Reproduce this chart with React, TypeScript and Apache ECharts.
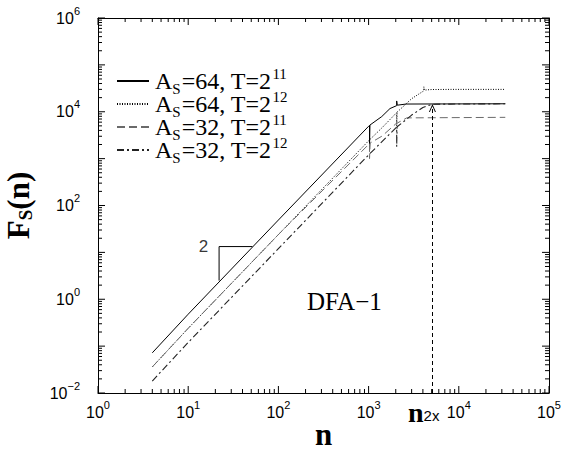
import React, { useEffect, useRef } from 'react';
import * as echarts from 'echarts';

// ---- data ----
const seriesNames = ['s64_11', 's64_12', 's32_11', 's32_12'];
const seriesAmp = ['64', '64', '32', '32'];
const seriesPow = ['11', '12', '11', '12'];

// A_S=64, T=2^11 (solid)
const solidN = [4, 10, 100, 1000, 1024, 1024, 1035, 1400, 1726, 2048, 2048, 2080, 2600, 32768];
const solidF = [0.072, 0.48, 49, 4900, 5100, 1800, 5200, 7900, 11700, 13500, 17000, 13800, 14600, 14800];

// A_S=64, T=2^12 (dotted)
const dottedN = [4, 10, 100, 1000, 1400, 2048, 2048, 2070, 3000, 4096, 4096, 4150, 5000, 8192, 32768];
const dottedF = [0.036, 0.24, 24, 2400, 4500, 9600, 5000, 9800, 19000, 28000, 34000, 29000, 29800, 30000, 30000];

// A_S=32, T=2^11 (dashed)
const dashedN = [4, 10, 100, 1000, 1024, 1024, 1040, 1400, 2000, 2650, 32768];
const dashedF = [0.036, 0.24, 24, 2000, 2100, 1000, 2150, 3000, 5500, 7400, 7600];

// A_S=32, T=2^12 (dash-dot)
const dashDotN = [4, 10, 100, 1000, 2048, 2048, 2070, 2300, 3000, 4000, 5100, 32768];
const dashDotF = [0.018, 0.12, 12, 1200, 4700, 1800, 4800, 5600, 8500, 12300, 14500, 14800];

// slope triangle
const triN = [51.5, 22, 22];
const triF = [13.3, 13.3, 2.5];
const slopeLabelPoint = [14.8, 13.3];

// crossover marker n_2x
const n2x = 5100;
const n2xArrowTop = 12000;

// axes
const xMin = 1;
const xMax = 100000;
const yMin = 0.01;
const yMax = 1000000;
const xDecades = [0, 1, 2, 3, 4, 5];
const yDecades = [-2, -1, 0, 1, 2, 3, 4, 5, 6];

const zip = (a: number[], b: number[]) => a.map((v, i) => [v, b[i]]);

const xTickData: number[][] = [];
xDecades.forEach((e) => {
  xTickData.push([Math.pow(10, e), 1, 1]);
  if (e < 5) for (let m = 2; m <= 9; m++) xTickData.push([m * Math.pow(10, e), 1, 0]);
});
const yTickData: number[][] = [];
yDecades.forEach((e) => {
  yTickData.push([10, Math.pow(10, e), 1]);
  if (e < 6) for (let m = 2; m <= 9; m++) yTickData.push([10, m * Math.pow(10, e), 0]);
});

const SANS = 'Liberation Sans';
const SERIF = 'Liberation Serif';

const supLabel = (v: number) => {
  const e = Math.round(Math.log10(v));
  return `{b|10}{s|${e < 0 ? '−' + -e : e}}`;
};

const labelRich = {
  b: { fontFamily: SANS, fontSize: 16, color: '#000', lineHeight: 26 },
  s: { fontFamily: SANS, fontSize: 11, color: '#000', lineHeight: 9, verticalAlign: 'top' },
};

export default function App() {
  const ref = useRef<HTMLDivElement>(null);
  useEffect(() => {
    if (!ref.current) return;
    document.body.style.margin = '0';
    document.body.style.overflow = 'hidden';
    document.documentElement.style.overflow = 'hidden';
    const chart = echarts.init(ref.current, null, { renderer: 'svg', width: 561, height: 451 });

    const lineSeries = (name: string, data: number[][], color: string, type: any, width: number, extra: any = {}) => ({
      name,
      type: 'line',
      data,
      symbol: 'none',
      showSymbol: false,
      smooth: false,
      clip: true,
      xAxisIndex: 0,
      yAxisIndex: 0,
      lineStyle: { color, type, width },
      itemStyle: { color },
      ...extra,
    });

    const option: any = {
      animation: false,
      backgroundColor: '#fff',
      textStyle: { fontFamily: SANS },
      grid: { left: 98, right: 12, top: 18, bottom: 58, containLabel: false, outerBoundsMode: 'none' },
      legend: {
        show: true,
        orient: 'vertical',
        left: 111,
        top: 61,
        itemWidth: 32,
        itemHeight: 14,
        itemGap: -7,
        selectedMode: false,
        data: seriesNames,
        itemStyle: { opacity: 0 },
        formatter: (name: string) => {
          const i = seriesNames.indexOf(name);
          return `{a|A}{sub|S}{a|=${seriesAmp[i]}, T=2}{sup|${seriesPow[i]}}`;
        },
        textStyle: {
          color: '#000',
          fontFamily: SERIF,
          fontSize: 24,
          padding: [0, 0, 0, 1],
          rich: {
            a: { fontFamily: SERIF, fontSize: 24, color: '#000', lineHeight: 30 },
            sub: { fontFamily: SERIF, fontSize: 15, color: '#000', lineHeight: 21, verticalAlign: 'bottom', padding: [0, 1, 0, 0] },
            sup: { fontFamily: SERIF, fontSize: 15, color: '#000', lineHeight: 4, verticalAlign: 'top', padding: [0, 0, 0, 1] },
          },
        },
      },
      xAxis: [
        {
          type: 'log',
          logBase: 10,
          min: xMin,
          max: xMax,
          position: 'bottom',
          axisLine: { show: true, lineStyle: { color: '#000', width: 1 } },
          axisTick: { show: false },
          splitLine: { show: false },
          axisLabel: { formatter: supLabel, margin: 6, rich: labelRich },
          name: 'n',
          nameLocation: 'middle',
          nameGap: 26,
          nameMoveOverlap: false,
          nameTextStyle: { fontFamily: SERIF, fontWeight: 'bold', fontSize: 31, color: '#000' },
        },
        {
          type: 'log',
          logBase: 10,
          min: xMin,
          max: xMax,
          position: 'top',
          axisLine: { show: true, lineStyle: { color: '#000', width: 1 } },
          axisTick: { show: false },
          splitLine: { show: false },
          axisLabel: { show: false },
        },
      ],
      yAxis: [
        {
          type: 'log',
          logBase: 10,
          min: yMin,
          max: yMax,
          position: 'left',
          axisLine: { show: true, lineStyle: { color: '#000', width: 1 } },
          axisTick: { show: false },
          splitLine: { show: false },
          axisLabel: {
            margin: 18,
            rich: labelRich,
            formatter: (v: number) => {
              const e = Math.round(Math.log10(v));
              return e % 2 === 0 ? supLabel(v) : '';
            },
          },
          name: '{f|F}{s|S}{f|(n)}',
          nameLocation: 'middle',
          nameGap: 63,
          nameRotate: 90,
          nameMoveOverlap: false,
          nameTextStyle: {
            rich: {
              f: { fontFamily: SERIF, fontWeight: 'bold', fontSize: 31, color: '#000', lineHeight: 34 },
              s: { fontFamily: SERIF, fontWeight: 'bold', fontSize: 19, color: '#000', lineHeight: 22, verticalAlign: 'bottom' },
            },
          },
        },
        {
          type: 'log',
          logBase: 10,
          min: yMin,
          max: yMax,
          position: 'right',
          axisLine: { show: true, lineStyle: { color: '#000', width: 1 } },
          axisTick: { show: false },
          splitLine: { show: false },
          axisLabel: { show: false },
        },
      ],
      series: [
        lineSeries(seriesNames[0], zip(solidN, solidF), '#000', 'solid', 1),
        lineSeries(seriesNames[1], zip(dottedN, dottedF), '#000', [1, 1.5], 1),
        lineSeries(seriesNames[2], zip(dashedN, dashedF), '#6a6a6a', [8, 4], 1),
        lineSeries(seriesNames[3], zip(dashDotN, dashDotF), '#222', [7, 3, 2, 3], 1.1, {
          markLine: {
            silent: true,
            symbol: ['none', 'path://M0,10 L5,0 L10,10 L8.6,10 L5,2.8 L1.4,10 Z'],
            symbolSize: [7, 8],
            label: { show: false },
            lineStyle: { color: '#000', type: [4, 3], width: 1 },
            data: [[{ coord: [n2x, yMin] }, { coord: [n2x, n2xArrowTop] }]],
          },
        }),
        {
          name: 'slope',
          type: 'line',
          data: zip(triN, triF),
          symbol: 'none',
          lineStyle: { color: '#000', width: 1, type: 'solid' },
          xAxisIndex: 0,
          yAxisIndex: 0,
        },
        {
          name: 'slopeLabel',
          type: 'scatter',
          data: [slopeLabelPoint],
          symbolSize: 0,
          xAxisIndex: 0,
          yAxisIndex: 0,
          label: {
            show: true,
            position: 'inside',
            formatter: '2',
            fontFamily: SANS,
            fontSize: 17,
            color: '#000',
          },
        },
        {
          name: 'xticks',
          type: 'custom',
          data: xTickData,
          xAxisIndex: 0,
          yAxisIndex: 0,
          clip: false,
          silent: true,
          encode: { x: 0, y: 1 },
          renderItem: (params: any, api: any) => {
            const v = api.value(0);
            const major = api.value(2) === 1;
            const L = major ? 7 : 4;
            const b = api.coord([v, yMin]);
            const t = api.coord([v, yMax]);
            const st = { stroke: '#000', lineWidth: 1 };
            return {
              type: 'group',
              children: [
                { type: 'line', shape: { x1: b[0], y1: b[1], x2: b[0], y2: b[1] - L }, style: st },
                { type: 'line', shape: { x1: t[0], y1: t[1], x2: t[0], y2: t[1] + L }, style: st },
              ],
            };
          },
        },
        {
          name: 'yticks',
          type: 'custom',
          data: yTickData,
          xAxisIndex: 0,
          yAxisIndex: 0,
          clip: false,
          silent: true,
          encode: { x: 0, y: 1 },
          renderItem: (params: any, api: any) => {
            const v = api.value(1);
            const major = api.value(2) === 1;
            const L = major ? 7 : 4;
            const l = api.coord([xMin, v]);
            const r = api.coord([xMax, v]);
            const st = { stroke: '#000', lineWidth: 1 };
            return {
              type: 'group',
              children: [
                { type: 'line', shape: { x1: l[0], y1: l[1], x2: l[0] + L, y2: l[1] }, style: st },
                { type: 'line', shape: { x1: r[0], y1: r[1], x2: r[0] - L, y2: r[1] }, style: st },
              ],
            };
          },
        },
      ],
      graphic: [
        {
          type: 'text',
          left: 307,
          top: 289,
          style: { text: 'DFA−1', fontFamily: SERIF, fontSize: 25, fill: '#000' },
        },
        {
          type: 'text',
          left: 408,
          top: 398,
          style: {
            text: '{n|n}{s|2x}',
            rich: {
              n: { fontFamily: SERIF, fontWeight: 'bold', fontSize: 28, fill: '#000', lineHeight: 22 },
              s: { fontFamily: SANS, fontSize: 15, fill: '#000', lineHeight: 12, verticalAlign: 'bottom' },
            },
          },
        },
      ],
    };

    chart.setOption(option);
    return () => chart.dispose();
  }, []);

  return (
    <div
      ref={ref}
      style={{ position: 'absolute', left: 0, top: 0, width: 561, height: 451, overflow: 'hidden' }}
    />
  );
}
